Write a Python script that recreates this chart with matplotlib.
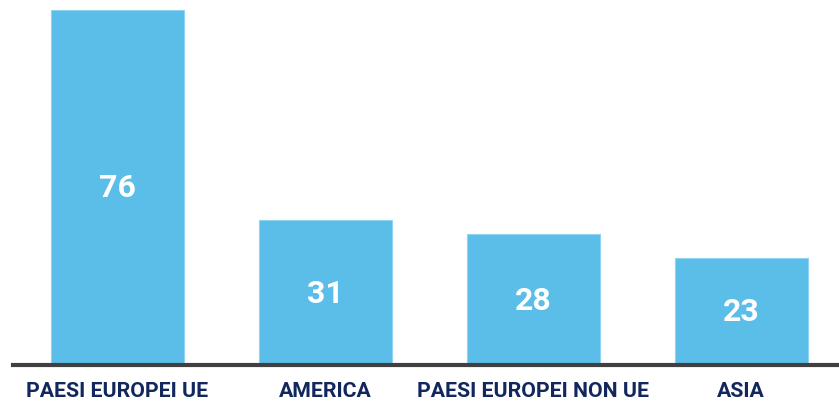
import matplotlib.pyplot as plt

regions = ["PAESI EUROPEI UE", "AMERICA", "PAESI EUROPEI NON UE", "ASIA"]
values = [76, 31, 28, 23]

bar_color = "#5bbee9"
label_color = "#12275e"

fig = plt.figure(figsize=(8.39, 4.01), dpi=100)
ax = fig.add_axes([13 / 839, 36 / 401, 826 / 839, 355 / 401])

x = range(len(values))
ax.bar(x, values, width=0.64, color=bar_color, edgecolor="#8fd4f2", linewidth=0.8)

for i, v in zip(x, values):
    ax.text(i, v / 2 - 0.2, str(v), ha="center", va="center", color="white",
            fontsize=23, fontweight="bold", family="Roboto")

ax.set_xlim(-0.502, 3.47)
ax.set_ylim(0, 76)

ax.set_xticks(list(x))
ax.set_xticklabels(regions, fontsize=15.3, fontweight="bold", family="Roboto", color=label_color)
ax.tick_params(axis="x", length=0, pad=12)
ax.set_yticks([])

for side in ["top", "right", "left"]:
    ax.spines[side].set_visible(False)
ax.spines["bottom"].set_color("#404040")
ax.spines["bottom"].set_linewidth(3)
ax.spines["bottom"].set_zorder(5)

fig.savefig("out.png", dpi=100)
